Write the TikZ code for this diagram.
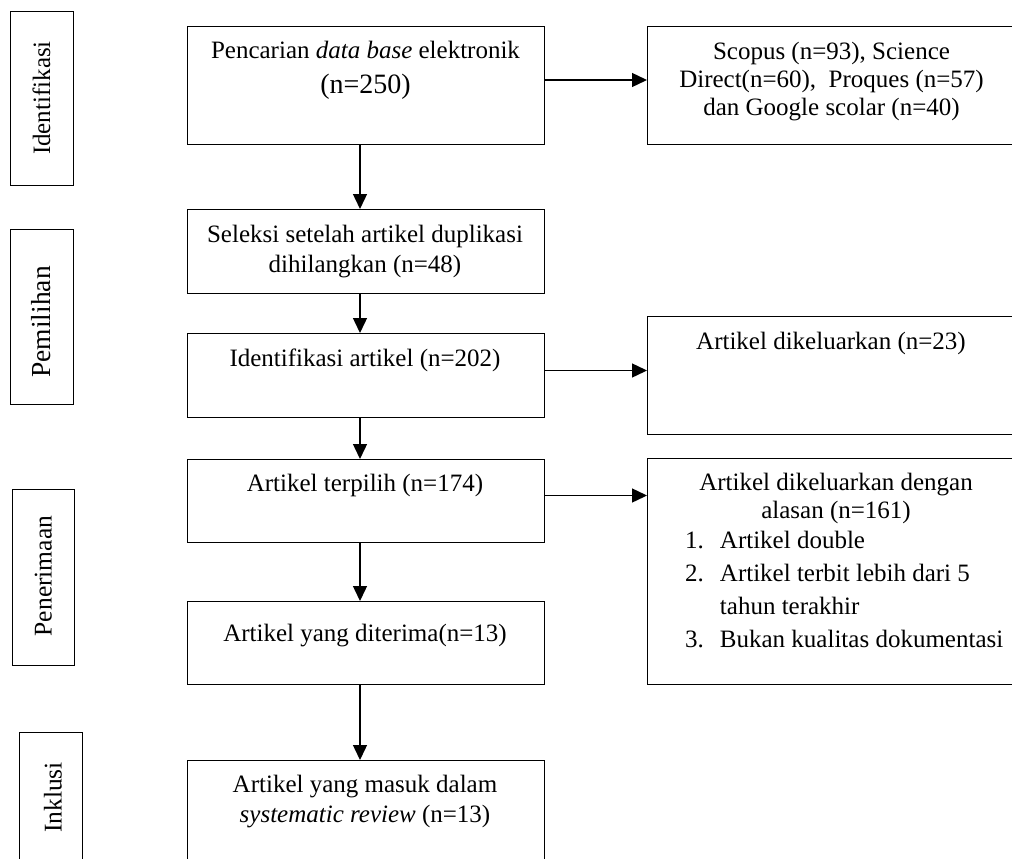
\documentclass[tikz,border=0pt]{standalone}
\usepackage{fontspec}
\setmainfont{Liberation Serif}
\usetikzlibrary{arrows.meta}
\newcommand{\mltext}[1]{\begin{tabular}[t]{@{}c@{}}#1\end{tabular}}
\tikzset{
  box/.style={draw, line width=1.4pt, inner sep=0pt, anchor=north west},
  txt/.style={anchor=base, inner sep=0pt, font=\fontsize{25}{30}\selectfont},
  rtxt/.style={anchor=base, inner sep=0pt, font=\fontsize{25}{28}\selectfont},
  side/.style={anchor=base, inner sep=0pt, rotate=90},
  arr/.style={line width=1.4pt, -{Triangle[length=15pt,width=14pt]}},
}
\begin{document}
\begin{tikzpicture}[x=1pt,y=-1pt]
\useasboundingbox (0,0) rectangle (1012,859);
\clip (0,0) rectangle (1012,859);

% left stage labels
\node[box, minimum width=63pt, minimum height=174pt] (l1) at (10,11) {};
\node[box, minimum width=63pt, minimum height=175pt] (l2) at (10,229) {};
\node[box, minimum width=62pt, minimum height=176pt] (l3) at (12,489) {};
\node[box, minimum width=63pt, minimum height=160pt] (l4) at (19,732) {};
\node[side, font=\fontsize{25}{30}\selectfont] (l1t) at (50,98) {Identifikasi};
\node[side, font=\fontsize{27.5}{30}\selectfont] (l2t) at (50,322) {Pemilihan};
\node[side, font=\fontsize{25.5}{30}\selectfont] (l3t) at (51.5,576) {Penerimaan};
\node[side, font=\fontsize{25.5}{30}\selectfont] (l4t) at (61.7,797.5) {Inklusi};

% main column boxes
\node[box, minimum width=357pt, minimum height=118pt] (b1) at (187,26) {};
\node[box, minimum width=357pt, minimum height=84pt] (b2) at (187,209) {};
\node[box, minimum width=357pt, minimum height=84pt] (b3) at (187,333) {};
\node[box, minimum width=357pt, minimum height=83pt] (b4) at (187,459) {};
\node[box, minimum width=357pt, minimum height=83pt] (b5) at (187,601) {};
\node[box, minimum width=357pt, minimum height=140pt] (b6) at (187,760) {};

\node[txt] (b1t) at (365.5,58.3) {\mltext{Pencarian \textit{data base} elektronik\\[5pt] \fontsize{28}{34}\selectfont (n=250)}};
\node[txt] (b2t) at (365,242) {\mltext{Seleksi setelah artikel duplikasi\\ dihilangkan (n=48)}};
\node[txt] (b3t) at (365,366.7) {Identifikasi artikel (n=202)};
\node[txt] (b4t) at (365,491.7) {Artikel terpilih (n=174)};
\node[txt] (b5t) at (365,641.7) {Artikel yang diterima(n=13)};
\node[txt] (b6t) at (365,792.7) {\mltext{Artikel yang masuk dalam\\ \textit{systematic review} (n=13)}};

% right column boxes
\node[box, minimum width=369pt, minimum height=118pt] (r1) at (647,26) {};
\node[box, minimum width=369pt, minimum height=118pt] (r2) at (647,316) {};
\node[box, minimum width=369pt, minimum height=226pt] (r3) at (647,458) {};

\node[rtxt] (r1t) at (831.5,59.3) {\mltext{Scopus (n=93), Science\\ Direct(n=60),\ \ Proques (n=57)\\ dan Google scolar (n=40)}};
\node[rtxt] (r2t) at (831,349.3) {Artikel dikeluarkan (n=23)};
\node[rtxt] (r3t) at (836,490.7) {\mltext{Artikel dikeluarkan dengan\\ alasan (n=161)}};
\node[anchor=base west, inner sep=0pt, font=\fontsize{25}{33}\selectfont] (r3l) at (685,548.3)
  {\begin{tabular}[t]{@{}l@{\hspace{16pt}}l@{}}
   1. & Artikel double\\
   2. & Artikel terbit lebih dari 5\\
      & tahun terakhir\\
   3. & Bukan kualitas dokumentasi
   \end{tabular}};

% connectors
\draw[arr] (b1.south -| 360,0) -- (b2.north -| 360,0);
\draw[arr] (b2.south -| 360,0) -- (b3.north -| 360,0);
\draw[arr] (b3.south -| 360,0) -- (b4.north -| 360,0);
\draw[arr] (b4.south -| 360,0) -- (b5.north -| 360,0);
\draw[arr] (b5.south -| 360,0) -- (b6.north -| 360,0);
\draw[arr] (b1.east |- 0,80) -- (r1.west |- 0,80);
\draw[arr] (b3.east |- 0,370.5) -- (r2.west |- 0,370.5);
\draw[arr] (b4.east |- 0,495.5) -- (r3.west |- 0,495.5);
\end{tikzpicture}
\end{document}
